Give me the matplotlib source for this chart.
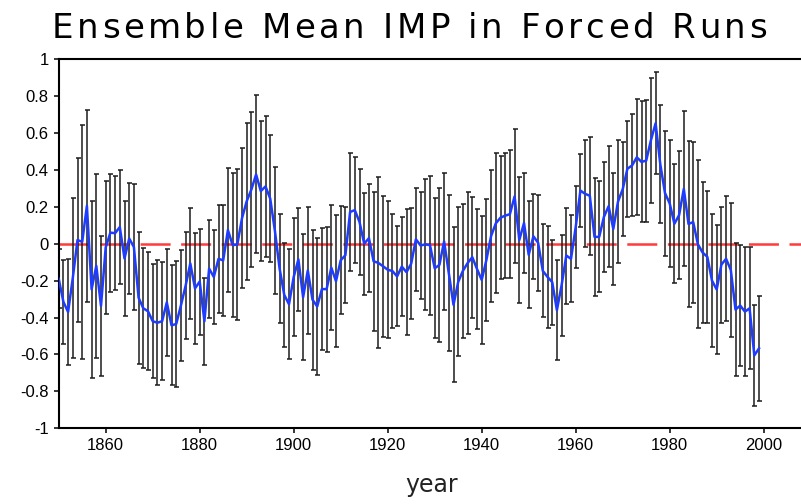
import numpy as np
import matplotlib
matplotlib.use("Agg")
import matplotlib.pyplot as plt

plt.rcParams["axes.unicode_minus"] = False
plt.rcParams["lines.scale_dashes"] = False

# ---- data -------------------------------------------------------------
years = np.arange(1850, 2000)

imp_mean = [
    -0.19, -0.315, -0.37, -0.185, 0.02, 0.01, 0.205, -0.247, -0.12, -0.337,
    -0.02, 0.06, 0.057, 0.09, -0.08, 0.028, -0.018, -0.293, -0.35, -0.366,
    -0.42, -0.428, -0.42, -0.318, -0.442, -0.435, -0.335, -0.228, -0.107, -0.242,
    -0.205, -0.42, -0.135, -0.18, -0.082, -0.09, 0.074, -0.007, -0.005, 0.138,
    0.23, 0.294, 0.375, 0.285, 0.31, 0.245, 0.07, -0.135, -0.278, -0.328,
    -0.18, -0.085, -0.29, -0.145, -0.303, -0.34, -0.246, -0.246, -0.13, -0.203,
    -0.09, -0.062, 0.172, 0.182, 0.118, 0.0, 0.03, -0.095, -0.104, -0.122,
    -0.141, -0.148, -0.177, -0.124, -0.154, -0.108, 0.024, -0.01, -0.003, -0.008,
    -0.133, -0.115, 0.012, -0.158, -0.331, -0.207, -0.147, -0.105, -0.073, -0.137,
    -0.196, -0.088, 0.042, 0.11, 0.141, 0.152, 0.16, 0.256, 0.02, 0.112,
    -0.06, 0.04, 0.005, -0.147, -0.18, -0.208, -0.36, -0.225, -0.064, -0.082,
    0.09, 0.288, 0.27, 0.26, 0.037, 0.037, 0.145, 0.203, 0.08, 0.228,
    0.295, 0.406, 0.424, 0.468, 0.443, 0.45, 0.56, 0.652, 0.43, 0.274,
    0.218, 0.108, 0.155, 0.297, 0.107, 0.117, -0.003, -0.048, -0.071, -0.2,
    -0.248, -0.113, -0.082, -0.142, -0.357, -0.335, -0.368, -0.35, -0.605, -0.567,
]

imp_spread = [
    0.16, 0.226, 0.289, 0.435, 0.445, 0.633, 0.521, 0.48, 0.50, 0.38,
    0.36, 0.32, 0.31, 0.31, 0.31, 0.30, 0.34, 0.357, 0.326, 0.32,
    0.31, 0.34, 0.32, 0.29, 0.325, 0.34, 0.30, 0.29, 0.30, 0.30,
    0.287, 0.235, 0.265, 0.255, 0.292, 0.30, 0.337, 0.388, 0.407, 0.379,
    0.425, 0.418, 0.428, 0.38, 0.382, 0.342, 0.345, 0.294, 0.28, 0.298,
    0.318, 0.28, 0.34, 0.342, 0.379, 0.372, 0.33, 0.338, 0.337, 0.358,
    0.293, 0.26, 0.318, 0.286, 0.287, 0.276, 0.293, 0.377, 0.463, 0.381,
    0.37, 0.31, 0.271, 0.267, 0.342, 0.30, 0.28, 0.289, 0.355, 0.377,
    0.378, 0.416, 0.372, 0.424, 0.42, 0.404, 0.362, 0.386, 0.328, 0.323,
    0.348, 0.329, 0.357, 0.379, 0.332, 0.34, 0.348, 0.363, 0.339, 0.269,
    0.29, 0.23, 0.261, 0.252, 0.277, 0.23, 0.271, 0.273, 0.26, 0.235,
    0.224, 0.196, 0.29, 0.32, 0.318, 0.30, 0.30, 0.328, 0.305, 0.335,
    0.255, 0.259, 0.276, 0.314, 0.328, 0.33, 0.339, 0.276, 0.32, 0.339,
    0.344, 0.322, 0.348, 0.42, 0.452, 0.436, 0.456, 0.382, 0.357, 0.36,
    0.35, 0.314, 0.338, 0.364, 0.361, 0.327, 0.349, 0.33, 0.274, 0.284,
]

yticks = [-1, -0.8, -0.6, -0.4, -0.2, 0, 0.2, 0.4, 0.6, 0.8, 1]
ytick_labels = ["-1", "-0.8", "-0.6", "-0.4", "-0.2", "0", "0.2", "0.4", "0.6", "0.8", "1"]
xticks = [1860, 1880, 1900, 1920, 1940, 1960, 1980, 2000]

title = "Ensemble Mean IMP in Forced Runs"
xlabel = "year"

# ---- figure -----------------------------------------------------------
W, H = 801, 504
fig = plt.figure(figsize=(W / 100, H / 100), dpi=100)
ax = fig.add_axes([58.7 / W, 75.7 / H, 752 / W, 369.2 / H])

ax.axhline(0, color="#ff3b3b", lw=1.8, linestyle=(0, (21.6, 7.6)), zorder=1)
ax.errorbar(years, imp_mean, yerr=imp_spread, fmt="none", ecolor="#1c1c1c",
            elinewidth=1.1, capsize=1.8, capthick=1.1, zorder=2)
ax.plot(years, imp_mean, color="#1e3cff", lw=1.8, zorder=3)

ax.set_xlim(1850, 2010)
ax.set_ylim(-1, 1)
ax.set_xticks(xticks)
ax.set_xticklabels([str(v) for v in xticks])
ax.set_yticks(yticks)
ax.set_yticklabels(ytick_labels)

for s in ax.spines.values():
    s.set_linewidth(1.5)
ax.spines["right"].set_visible(False)
ax.tick_params(direction="out", length=3.6, width=1.1, pad=3.5,
               labelsize=12, colors="black")
for lab in ax.get_xticklabels() + ax.get_yticklabels():
    lab.set_family("Liberation Sans")

fig.text(432 / W, 1 - 492 / H, xlabel, ha="center", va="baseline",
         fontsize=17, color="#222222", family="DejaVu Sans")


# title with wide letter spacing, laid out glyph by glyph
def spaced_text(x0, x1, y_base, text, **kw):
    renderer = fig.canvas.get_renderer()
    probe = fig.text(0, 0, "x", **kw)
    prop = probe.get_fontproperties()
    probe.remove()
    widths = [renderer.get_text_width_height_descent(ch, prop, ismath=False)[0]
              for ch in text]
    extra = ((x1 - x0) - sum(widths)) / (len(text) - 1)
    x = x0
    for ch, w in zip(text, widths):
        fig.text(x / W, 1 - y_base / H, ch, ha="left", va="baseline", **kw)
        x += w + extra


spaced_text(51.5, 767, 38, title, fontsize=24.5, family="DejaVu Sans",
            color="black")

fig.savefig("out.png", dpi=100)
